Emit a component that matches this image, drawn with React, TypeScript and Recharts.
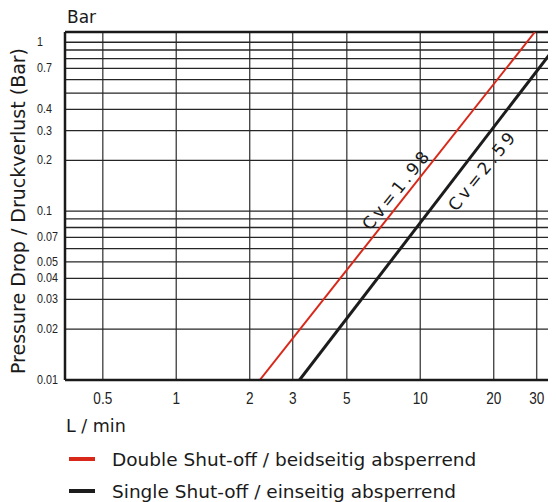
import React from "react";
import { LineChart, Line, XAxis, YAxis, CartesianGrid, ReferenceLine, ReferenceDot } from "recharts";

// flow (L/min) and pressure drop (bar), both on log scales
const flowTicks = [0.5, 1, 2, 3, 5, 10, 20, 30];
const pressureTicks = [0.01, 0.02, 0.03, 0.04, 0.05, 0.07, 0.1, 0.2, 0.3, 0.4, 0.7, 1];
const pressureGrid = [0.02, 0.03, 0.04, 0.05, 0.06, 0.07, 0.08, 0.09, 0.1, 0.2, 0.3, 0.4, 0.5, 0.6, 0.7, 0.8, 0.9, 1];

const doubleShutOff = [
  { q: 2.2, p: 0.01 },
  { q: 29.5, p: 1.15 },
];
const singleShutOff = [
  { q: 3.2, p: 0.01 },
  { q: 36, p: 0.95 },
];

const seriesNames = ["Double Shut-off / beidseitig absperrend", "Single Shut-off / einseitig absperrend"];
const seriesColors = ["#d8281a", "#1c1c1c"];

const cvLabels = [
  { q: 8, p: 0.135, text: "Cv=1.98" },
  { q: 18, p: 0.175, text: "Cv=2.59" },
];

const TITLE_FONT = "'DejaVu Sans', sans-serif";
const TICK_FONT = "'Liberation Sans', Arial, sans-serif";

const YTick = ({ x, y, payload }: any) => (
  <text
    transform={`translate(${x - 28},${y}) scale(0.86,1)`}
    dy={4}
    textAnchor="start"
    fontSize={12.5}
    fontFamily={TICK_FONT}
    fill="#222"
  >
    {payload.value}
  </text>
);

const XTick = ({ x, y, payload }: any) => (
  <text
    transform={`translate(${x},${y}) scale(0.8,1)`}
    dy="0.72em"
    textAnchor="middle"
    fontSize={17}
    fontFamily={TICK_FONT}
    fill="#222"
  >
    {payload.value}
  </text>
);

const YTitle = ({ viewBox }: any) => {
  const cx = viewBox.x + 10;
  const cy = viewBox.y + viewBox.height / 2 + 5;
  return (
    <g fontFamily={TITLE_FONT} fill="#1a1a1a">
      <text transform={`translate(${cx},${cy}) rotate(-90)`} textAnchor="middle" dominantBaseline="central" fontSize={19}>
        Pressure Drop / Druckverlust (Bar)
      </text>
      <text x={viewBox.x + viewBox.width + 2} y={viewBox.y - 9} fontSize={17}>
        Bar
      </text>
    </g>
  );
};

const XTitle = ({ viewBox }: any) => (
  <text x={viewBox.x + 1} y={viewBox.y + viewBox.height} fontSize={17.5} fontFamily={TITLE_FONT} fill="#1a1a1a">
    L / min
  </text>
);

const CvText = (text: string) => (props: any) => (
  <text
    x={props.cx}
    y={props.cy}
    transform={`rotate(-51 ${props.cx} ${props.cy})`}
    textAnchor="middle"
    dominantBaseline="central"
    fontSize={17}
    letterSpacing={3.5}
    fontFamily={TITLE_FONT}
    fill="#1a1a1a"
  >
    {text}
  </text>
);

export default function App() {
  return (
    <div style={{ position: "relative", width: 548, height: 494 }}>
      <style>{"html,body{overflow:hidden}"}</style>
      <LineChart width={548} height={494} margin={{ top: 24, right: 0, left: 0, bottom: 70 }}>
        <CartesianGrid horizontal={false} stroke="#4a4a4a" strokeWidth={1.4} />
        {pressureGrid.map((v) => (
          <ReferenceLine key={v} y={v} stroke="#262626" strokeWidth={1.3} />
        ))}
        <XAxis
          dataKey="q"
          type="number"
          scale="log"
          domain={[0.35, 36]}
          ticks={flowTicks}
          interval={0}
          allowDataOverflow
          height={52}
          tickSize={0}
          tickMargin={12}
          tick={<XTick />}
          axisLine={{ stroke: "#1a1a1a", strokeWidth: 2.5 }}
          label={<XTitle />}
        />
        <YAxis
          dataKey="p"
          type="number"
          scale="log"
          domain={[0.01, 1.15]}
          ticks={pressureTicks}
          interval={0}
          allowDataOverflow
          width={57}
          tickSize={0}
          tickMargin={0}
          tick={<YTick />}
          axisLine={{ stroke: "#1a1a1a", strokeWidth: 2.5 }}
          label={<YTitle />}
        />
        <ReferenceLine y={1.15} stroke="#1a1a1a" strokeWidth={2.5} />
        <Line
          data={doubleShutOff}
          dataKey="p"
          name={seriesNames[0]}
          type="linear"
          stroke={seriesColors[0]}
          strokeWidth={2}
          dot={false}
          isAnimationActive={false}
        />
        <Line
          data={singleShutOff}
          dataKey="p"
          name={seriesNames[1]}
          type="linear"
          stroke={seriesColors[1]}
          strokeWidth={3}
          dot={false}
          isAnimationActive={false}
        />
        {cvLabels.map((l) => (
          <ReferenceDot key={l.text} x={l.q} y={l.p} ifOverflow="visible" shape={CvText(l.text)} />
        ))}
      </LineChart>
      {seriesNames.map((name, i) => (
        <div
          key={name}
          style={{
            position: "absolute",
            left: 61,
            top: 441 + i * 32,
            height: 20,
            display: "flex",
            alignItems: "center",
            fontFamily: TITLE_FONT,
            fontSize: 18.5,
            color: "#1a1a1a",
            whiteSpace: "nowrap",
          }}
        >
          <span style={{ display: "inline-block", width: 26, height: 4, background: seriesColors[i], marginRight: 17 }} />
          {name}
        </div>
      ))}
    </div>
  );
}
